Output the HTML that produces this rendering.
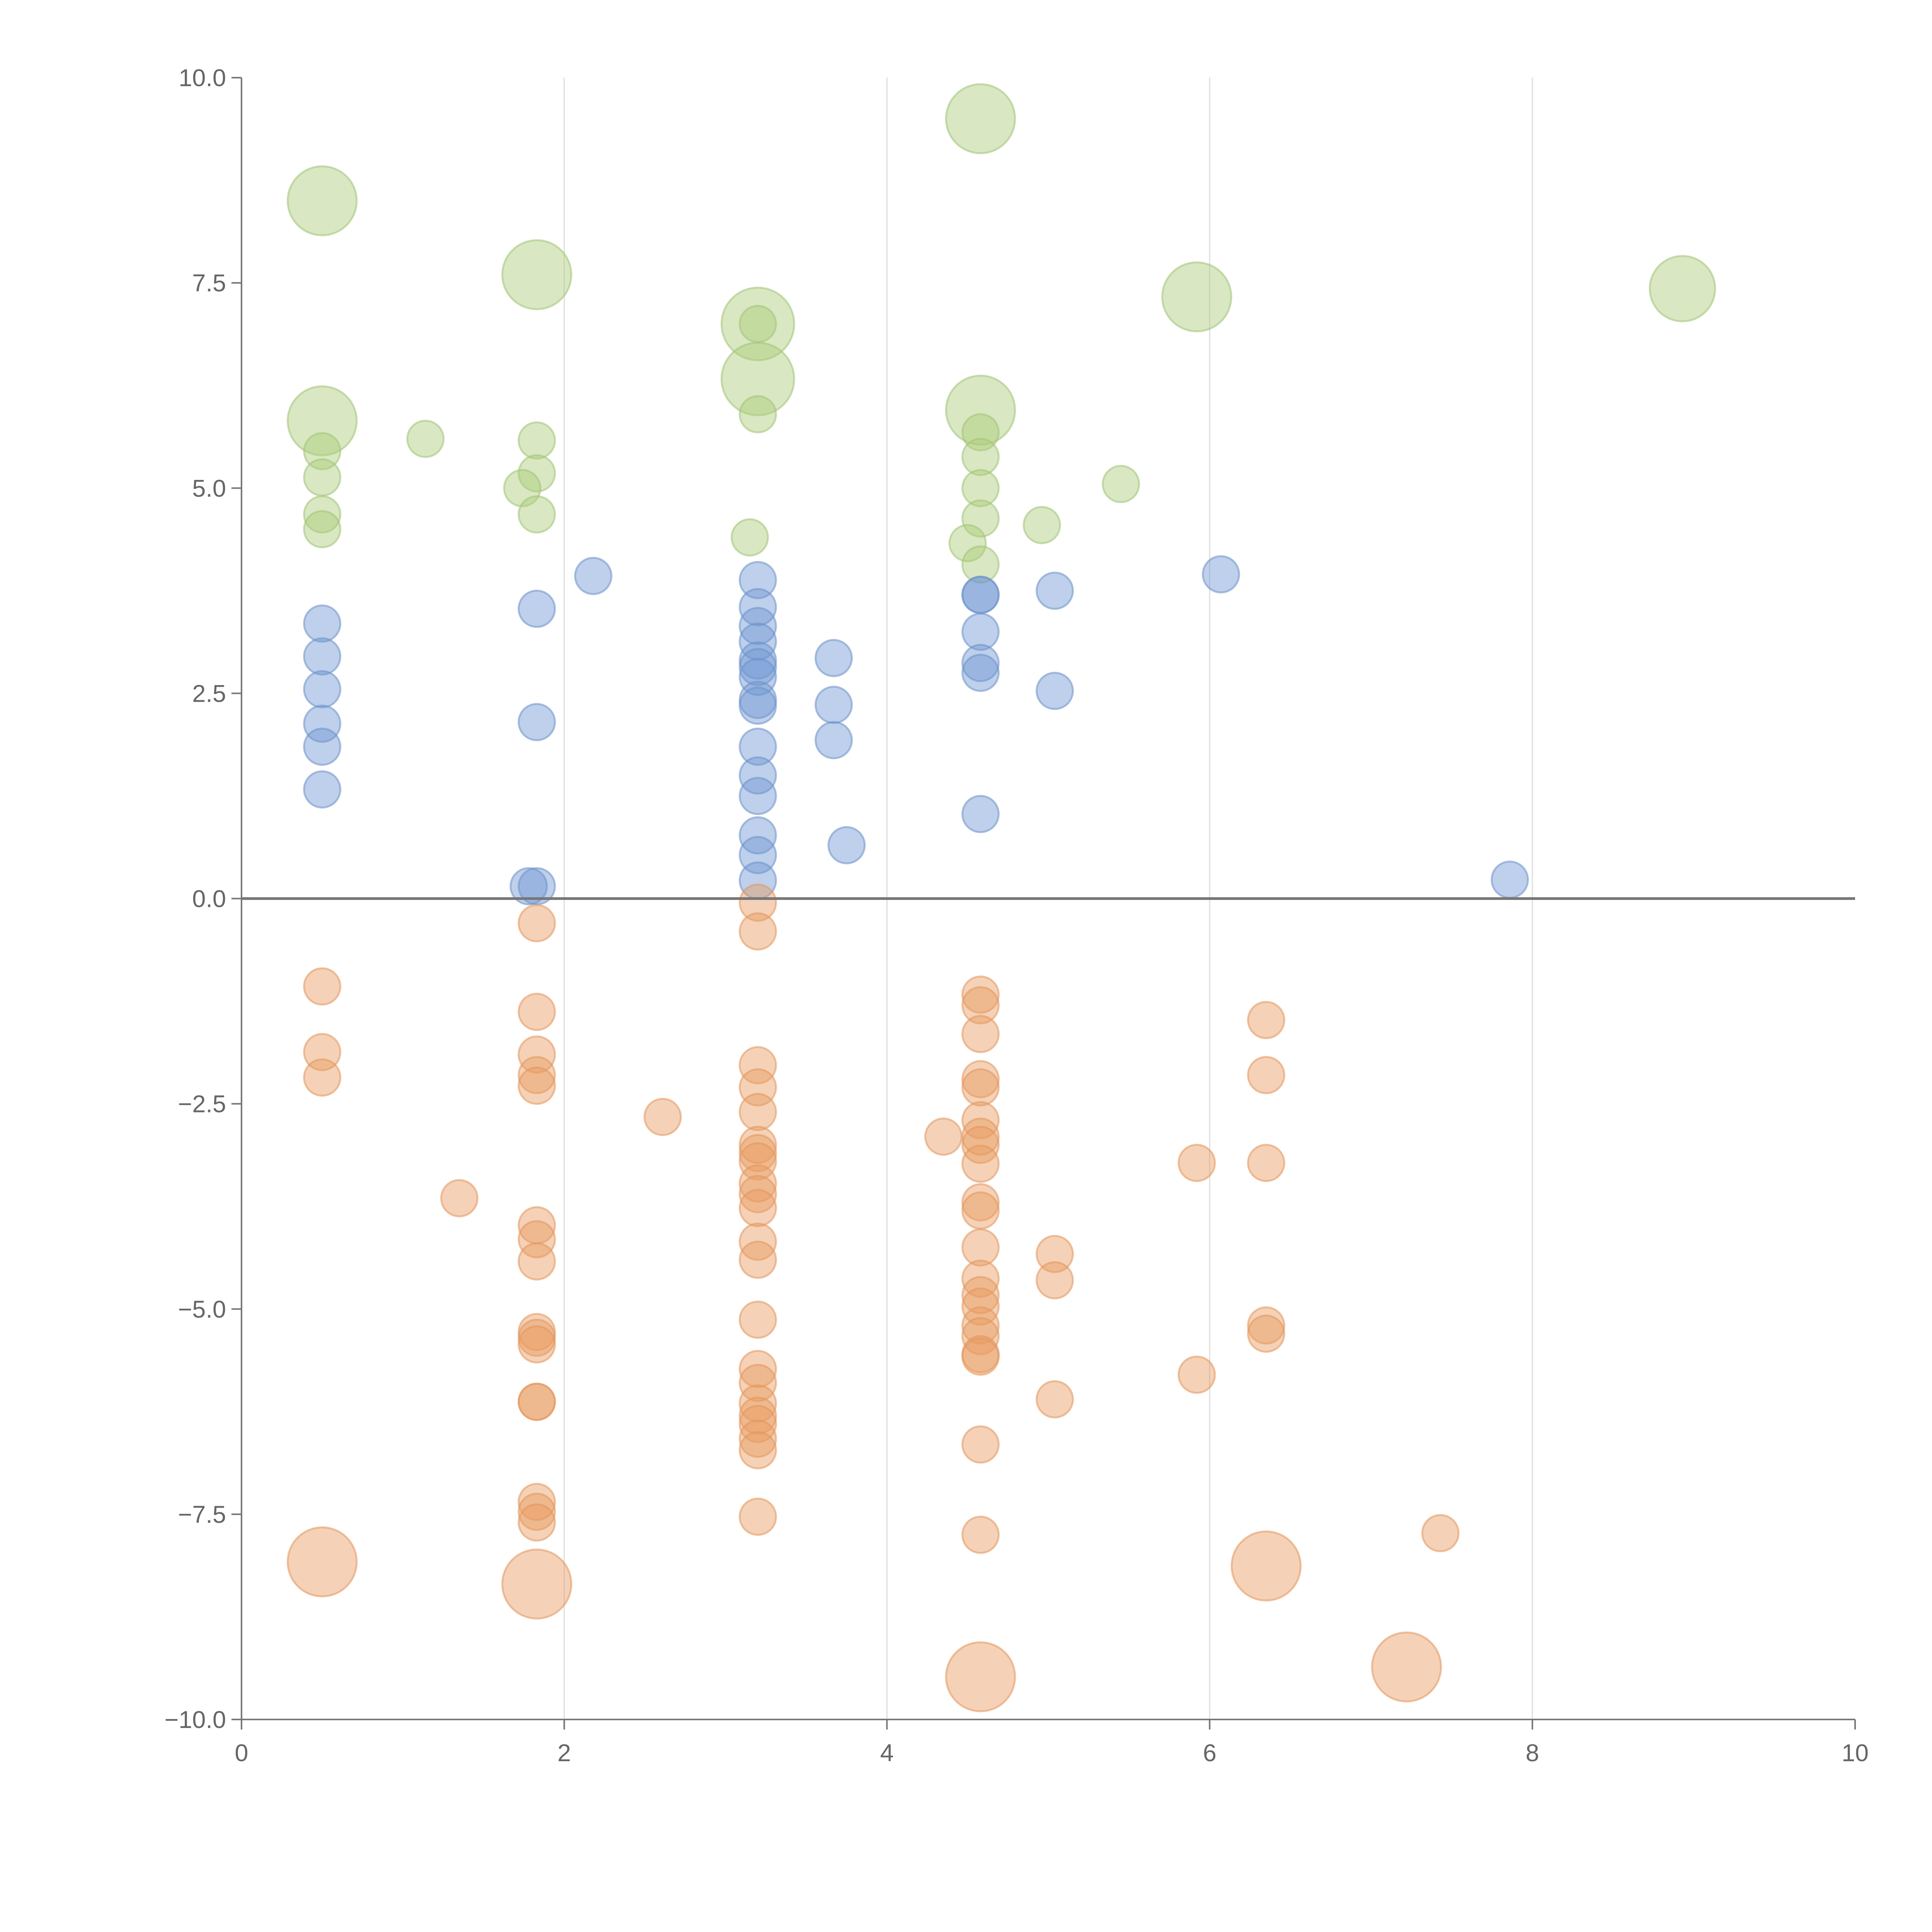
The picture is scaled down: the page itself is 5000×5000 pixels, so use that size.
<!DOCTYPE html>
<html><head><meta charset="utf-8"><style>
html,body{margin:0;padding:0;background:#fff}
svg{display:block}
text{font-family:"Liberation Sans",sans-serif;fill:#666;font-size:63px}
</style></head><body>
<svg id="chart" width="5000" height="5000" viewBox="0 0 5000 5000"></svg>
<script>
const xTicks=[0,2,4,6,8,10];
const xTickLabels=["0","2","4","6","8","10"];
const yTicks=[10,7.5,5,2.5,0,-2.5,-5,-7.5,-10];
const yTickLabels=["10.0","7.5","5.0","2.5","0.0","\u22122.5","\u22125.0","\u22127.5","\u221210.0"];
const greenX=[0.5,1.83,3.2,3.2,4.58,4.58,5.92,8.93,0.5,0.5,0.5,0.5,0.5,1.14,1.83,1.83,1.74,1.83,3.2,3.2,3.15,4.58,4.58,4.58,4.58,4.5,4.58,4.96,5.45];
const greenY=[8.5,7.6,7.0,6.33,9.5,5.95,7.33,7.43,5.82,5.45,5.13,4.68,4.5,5.6,5.58,5.18,5.0,4.68,7.0,5.9,4.4,5.68,5.38,5.0,4.63,4.33,4.07,4.55,5.05];
const greenS=[1.9,1.9,2.0,2.0,1.9,1.9,1.9,1.8,1.9,1,1,1,1,1,1,1,1,1,1,1,1,1,1,1,1,1,1,1,1];
const blueX=[0.5,0.5,0.5,0.5,0.5,0.5,1.83,1.83,1.83,1.78,2.18,3.2,3.2,3.2,3.2,3.2,3.2,3.2,3.2,3.2,3.2,3.2,3.2,3.2,3.2,3.2,3.67,3.67,3.67,3.75,4.58,4.58,4.58,4.58,4.58,4.58,5.04,5.04,6.07,7.86];
const blueY=[3.35,2.95,2.55,2.13,1.85,1.33,3.53,2.15,0.15,0.15,3.93,3.88,3.55,3.32,3.13,2.9,2.82,2.7,2.42,2.35,1.85,1.5,1.25,0.77,0.53,0.22,2.93,2.36,1.93,0.65,3.7,3.7,3.25,2.87,2.75,1.03,3.75,2.53,3.95,0.23];
const orangeX=[0.5,0.5,0.5,1.83,1.83,1.83,1.83,1.83,2.61,1.35,1.83,1.83,1.83,1.83,1.83,1.83,1.83,1.83,1.83,1.83,1.83,3.2,3.2,3.2,3.2,3.2,3.2,3.2,3.2,3.2,3.2,3.2,3.2,3.2,3.2,3.2,3.2,3.2,3.2,3.2,3.2,3.2,3.2,4.35,4.58,4.58,4.58,4.58,4.58,4.58,4.58,4.58,4.58,4.58,4.58,4.58,4.58,4.58,4.58,4.58,4.58,4.58,4.58,4.58,4.58,5.04,5.04,5.04,5.92,5.92,6.35,6.35,6.35,6.35,6.35,7.43,0.5,1.83,4.58,6.35,7.22];
const orangeY=[-1.07,-1.87,-2.18,-0.3,-1.38,-1.9,-2.15,-2.28,-2.66,-3.65,-3.98,-4.15,-4.42,-5.28,-5.35,-5.43,-6.13,-6.13,-7.35,-7.47,-7.6,-0.05,-0.4,-2.03,-2.3,-2.6,-3.0,-3.1,-3.2,-3.47,-3.6,-3.77,-4.18,-4.4,-5.13,-5.73,-5.9,-6.15,-6.3,-6.4,-6.58,-6.72,-7.53,-2.9,-1.17,-1.3,-1.65,-2.2,-2.3,-2.7,-2.9,-3.0,-3.23,-3.7,-3.8,-4.25,-4.63,-4.83,-4.97,-5.2,-5.33,-5.55,-5.58,-6.65,-7.75,-4.33,-4.65,-6.1,-3.22,-5.8,-1.48,-2.15,-3.22,-5.2,-5.3,-7.73,-8.08,-8.35,-9.48,-8.13,-9.36];
const orangeS=orangeX.map((v,i)=>i>=orangeX.length-5?1.9:1);

const NS="http://www.w3.org/2000/svg";
const svg=document.getElementById('chart');
const X0=625,X1=4801,Y0=4450,Y1=201;
const sx=v=>X0+(v-0)/(10-0)*(X1-X0);
const sy=v=>Y0-(v+10)/20*(Y0-Y1);
const R=47;
function mk(t,a){const e=document.createElementNS(NS,t);for(const k in a)e.setAttribute(k,a[k]);svg.appendChild(e);return e;}
xTicks.forEach((t,i)=>{if(t>0&&t<10){const g=mk('line',{x1:sx(t),x2:sx(t),y1:Y1,y2:Y0,stroke:'#ddd','stroke-width':3});

}});
function series(xs,ys,ss,fill,stroke,name){
 xs.forEach((x,i)=>{const c=mk('circle',{cx:sx(x),cy:sy(ys[i]),r:R*(ss?ss[i]:1),fill:fill,stroke:stroke,'stroke-width':5});
 
 });
}
series(greenX,greenY,greenS,'rgba(170,204,120,0.45)','rgba(160,195,120,0.55)','green');
series(blueX,blueY,null,'rgba(110,150,210,0.45)','rgba(110,145,200,0.55)','blue');
series(orangeX,orangeY,orangeS,'rgba(232,155,95,0.45)','rgba(225,150,95,0.55)','orange');
let z=mk('line',{x1:X0,x2:X1,y1:sy(0),y2:sy(0),stroke:'#777','stroke-width':7});


let ya=mk('line',{x1:X0,x2:X0,y1:Y1,y2:Y0,stroke:'#777','stroke-width':4});


let xa=mk('line',{x1:X0,x2:X1,y1:Y0,y2:Y0,stroke:'#777','stroke-width':4});


yTicks.forEach((t,i)=>{mk('line',{x1:X0-26,x2:X0,y1:sy(t),y2:sy(t),stroke:'#777','stroke-width':4});
 const l=mk('text',{x:X0-40,y:sy(t)+22,'text-anchor':'end'});l.textContent=yTickLabels[i];
 
 });
xTicks.forEach((t,i)=>{mk('line',{x1:sx(t),x2:sx(t),y1:Y0,y2:Y0+26,stroke:'#777','stroke-width':4});
 const l=mk('text',{x:sx(t),y:Y0+108,'text-anchor':'middle'});l.textContent=xTickLabels[i];
 
 });
</script>
</body></html>
